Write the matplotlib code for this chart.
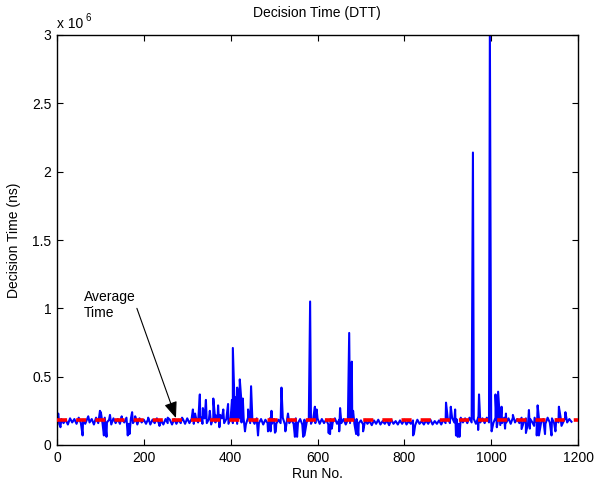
import matplotlib
matplotlib.use("Agg")
import matplotlib.pyplot as plt
import numpy as np

plt.rcParams['font.family'] = ['Liberation Sans', 'DejaVu Sans']

# Decision time values in units of 1e6 ns
base_step = 5
base_vals = [
    0.2,0.155,0.19,0.16,0.185,0.15,0.195,0.165,0.19,0.155,0.2,0.16,0.185,0.155,0.195,0.165,0.19,0.15,0.2,0.16,
    0.19,0.155,0.2,0.165,0.185,0.15,0.195,0.16,0.19,0.155,0.185,0.165,0.2,0.155,0.19,0.16,0.185,0.15,0.195,0.165,
    0.185,0.155,0.19,0.15,0.185,0.16,0.195,0.155,0.18,0.15,0.19,0.16,0.185,0.15,0.19,0.155,0.185,0.16,0.19,0.155,
    0.195,0.16,0.19,0.155,0.2,0.165,0.19,0.155,0.195,0.16,0.19,0.15,0.2,0.165,0.19,0.155,0.195,0.16,0.19,0.155,
    0.2,0.16,0.19,0.155,0.195,0.165,0.19,0.15,0.2,0.16,0.185,0.155,0.195,0.16,0.19,0.15,0.185,0.16,0.195,0.155,
    0.19,0.155,0.185,0.16,0.2,0.15,0.19,0.16,0.185,0.155,0.195,0.16,0.19,0.15,0.185,0.165,0.195,0.155,0.19,0.16,
    0.195,0.155,0.19,0.16,0.185,0.15,0.19,0.165,0.195,0.155,0.185,0.16,0.19,0.15,0.185,0.16,0.195,0.155,0.19,0.16,
    0.18,0.15,0.185,0.155,0.175,0.145,0.18,0.155,0.185,0.15,0.175,0.155,0.18,0.145,0.185,0.155,0.175,0.15,0.18,0.155,
    0.185,0.15,0.175,0.155,0.18,0.145,0.185,0.155,0.175,0.15,0.18,0.155,0.185,0.15,0.175,0.155,0.18,0.15,0.185,0.16,
    0.195,0.16,0.2,0.165,0.19,0.155,0.2,0.165,0.195,0.16,0.2,0.165,0.19,0.155,0.2,0.165,0.195,0.16,0.2,0.165,
    0.195,0.16,0.2,0.165,0.19,0.16,0.2,0.165,0.195,0.155,0.2,0.165,0.19,0.16,0.2,0.165,0.195,0.16,0.19,0.165,
    0.2,0.16,0.195,0.165,0.19,0.155,0.2,0.165,0.195,0.16,0.19,0.165,0.2,0.16,0.195,0.165,0.19,0.17,
]
base_runs = [i * base_step for i in range(len(base_vals))]

event_runs = [3, 8, 59, 72, 99, 101, 108, 114, 122, 149, 163, 167, 173, 180, 210, 236, 255, 288,
              313, 318, 329, 333, 336, 343, 352, 360, 365, 371, 374, 376, 383, 394,
              403, 405, 410, 415, 418, 421, 424, 428, 433, 440, 447, 463, 486, 492, 494, 502,
              504, 517, 526, 532, 548, 553, 567, 570, 583, 594, 598, 625, 629, 633, 650, 652,
              673, 679, 682, 689, 694, 705, 820, 822,
              896, 907, 917, 919, 923, 927, 958, 970, 972, 997, 1001, 1010, 1013, 1016, 1021,
              1024, 1032, 1034, 1050, 1070, 1080, 1087, 1089, 1099, 1105, 1107, 1110, 1124,
              1139, 1148, 1156, 1162, 1171]
event_vals = [0.23, 0.13, 0.07, 0.21, 0.25, 0.24, 0.07, 0.06, 0.22, 0.21, 0.07, 0.08, 0.24, 0.21, 0.2, 0.14, 0.2, 0.2,
              0.26, 0.23, 0.37, 0.2, 0.27, 0.33, 0.25, 0.34, 0.22, 0.29, 0.13, 0.22, 0.26, 0.3,
              0.33, 0.71, 0.35, 0.42, 0.31, 0.48, 0.35, 0.34, 0.1, 0.26, 0.43, 0.07, 0.1, 0.1, 0.25, 0.09,
              0.1, 0.42, 0.1, 0.23, 0.06, 0.06, 0.06, 0.07, 1.05, 0.28, 0.26, 0.09, 0.08, 0.12, 0.1, 0.27,
              0.82, 0.61, 0.25, 0.08, 0.07, 0.1, 0.07, 0.08,
              0.31, 0.28, 0.26, 0.07, 0.06, 0.06, 2.14, 0.11, 0.37, 3.05, 0.1, 0.37, 0.13, 0.39, 0.146,
              0.28, 0.12, 0.23, 0.22, 0.117, 0.088, 0.256, 0.12, 0.14, 0.07, 0.29, 0.07, 0.08,
              0.07, 0.1, 0.28, 0.14, 0.24]

average_time = 0.182

x_ticks = [0, 200, 400, 600, 800, 1000, 1200]
y_ticks = [0, 0.5, 1, 1.5, 2, 2.5, 3]
y_tick_labels = ['0', '0.5', '1', '1.5', '2', '2.5', '3']

runs = np.array(base_runs + event_runs, dtype=float)
vals = np.array(base_vals + event_vals, dtype=float)
order = np.argsort(runs, kind='stable')
runs, vals = runs[order], vals[order]

W, H = 597, 487
fig = plt.figure(figsize=(W / 100, H / 100), dpi=100)
ax = fig.add_axes([57 / W, 42 / H, 521 / W, 410 / H])

ax.plot(runs, vals, color=(0, 0, 1), lw=1.5, zorder=2)
ax.plot([0, 1200], [average_time, average_time], color=(1, 0, 0), lw=2.6,
        dashes=(2.8, 2.5), zorder=3)

ax.set_xlim(0, 1200)
ax.set_ylim(0, 3)
ax.set_xticks(x_ticks)
ax.set_yticks(y_ticks)
ax.set_yticklabels(y_tick_labels)
ax.tick_params(direction='in', top=True, right=True, length=4, width=0.8,
               labelsize=10, pad=4)
for s in ax.spines.values():
    s.set_linewidth(1.0)

ax.set_xlabel('Run No.', fontsize=10, labelpad=2)
ax.set_ylabel('Decision Time (ns)', fontsize=10, labelpad=8)

fig.text(317 / W, 1 - 13 / H, 'Decision Time (DTT)', ha='center', va='center', fontsize=10)
fig.text(57 / W, 1 - 28 / H, 'x 10', ha='left', va='baseline', fontsize=10)
fig.text(86 / W, 1 - 21 / H, '6', ha='left', va='baseline', fontsize=7)

ax.annotate('', xy=(274, 0.197), xytext=(184, 1.0),
            arrowprops=dict(arrowstyle='-|>,head_length=0.55,head_width=0.22', color='k',
                            lw=0.8, mutation_scale=18, shrinkA=0, shrinkB=0))
ax.text(62, 1.024, 'Average\nTime', ha='left', va='center', fontsize=10, linespacing=1.15)

fig.savefig('out.png', dpi=100)
